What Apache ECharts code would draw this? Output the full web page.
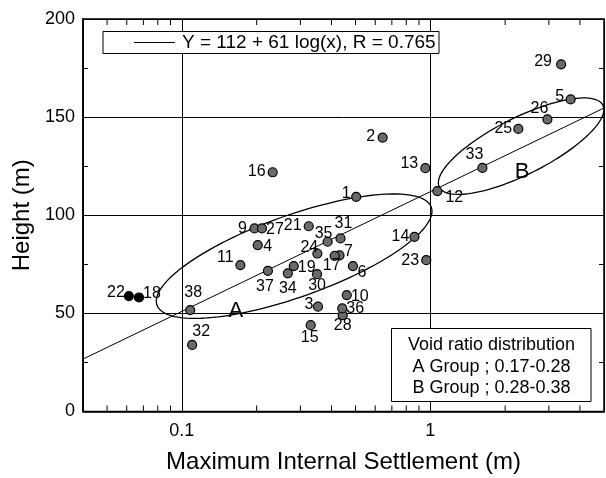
<!DOCTYPE html>
<html>
<head>
<meta charset="utf-8">
<script src="https://cdn.jsdelivr.net/npm/echarts@6/dist/echarts.min.js"></script>
<style>
  html, body { margin: 0; padding: 0; background: #fff; }
  #chart { width: 606px; height: 478px; }
</style>
</head>
<body>
<div id="chart"></div>
<script>
// Dam records: maximum internal settlement (m) vs. dam height (m)
const damIds = [1, 2, 3, 4, 5, 6, 7, 9, 10, 11, 12, 13, 14, 15, 16, 17, 18, 19, 21, 22,
                23, 24, 25, 26, 27, 28, 29, 30, 31, 32, 33, 34, 35, 36, 37, 38];
const settlement = [0.503, 0.643, 0.353, 0.202, 3.67, 0.488, 0.431, 0.196, 0.461, 0.172,
                    1.067, 0.955, 0.863, 0.330, 0.232, 0.412, 0.0672, 0.282, 0.324, 0.0612,
                    0.963, 0.351, 2.26, 2.96, 0.210, 0.444, 3.36, 0.350, 0.435, 0.110,
                    1.62, 0.267, 0.386, 0.442, 0.222, 0.108];
const height = [109.4, 139.6, 53.4, 84.8, 159.0, 74.1, 79.6, 93.3, 59.3, 74.6,
                112.3, 124.0, 89.0, 44.0, 121.9, 79.3, 58.1, 74.1, 94.4, 58.8,
                77.1, 80.5, 144.0, 148.9, 93.3, 49.1, 176.9, 70.0, 88.2, 33.9,
                124.1, 70.4, 86.5, 52.5, 71.7, 51.7];

// Regression Y = a + b log10(x)
const fitA = 112;
const fitB = 61;
const fitR = 0.765;

// Axis ranges and tick values
const xRange = [0.04, 5];
const yRange = [0, 200];
const yStep = 50;
const xMinorTicks = [0.05, 0.06, 0.07, 0.08, 0.09, 0.2, 0.3, 0.4, 0.5, 0.6, 0.7, 0.8, 0.9, 2, 3, 4];

// Group envelopes: end points of the long axis (settlement, height)
const groupA = { name: 'A', from: [0.0794, 54.2], to: [1.009, 104.1], tag: [0.165, 51.2] };
const groupB = { name: 'B', from: [1.087, 114.3], to: [4.95, 156.1], tag: [2.34, 121.9] };

// ---- styling ----
const FONT = '"Liberation Sans", Arial, Helvetica, sans-serif';
const ellipseRatio = { A: 0.28, B: 0.31 };
// label offsets (px) from each dot centre
const labelOffset = {
  1: [-10, -3], 2: [-12, -1], 3: [-9, -2], 4: [10, 2], 5: [-11, -3], 6: [9, 7], 7: [9, -4],
  9: [-12, 0], 10: [13, 1], 11: [-15, -8], 12: [17, 6], 13: [-16, -5], 14: [-14, 0],
  15: [-1, 12], 16: [-16, -1], 17: [-3, 10], 18: [13, -4], 19: [13, 2], 21: [-16, -1],
  22: [-13, -4], 23: [-16, 0], 24: [-8, -6], 25: [-15, 0], 26: [-8, -11], 27: [13, 1],
  28: [0, 10], 29: [-18, -3], 30: [0, 11], 31: [3, -15], 32: [9, -13], 33: [-8, -13],
  34: [0, 15], 35: [-4, -8], 36: [13, 0], 37: [-3, 16], 38: [3, -17]
};
const solidDots = { 18: true, 22: true };

const points = damIds.map((id, i) => ({
  value: [settlement[i], height[i]],
  name: String(id),
  itemStyle: solidDots[id] ? { color: '#000' } : undefined,
  label: { offset: labelOffset[id] || [10, 0] }
}));

const fitLine = xRange.map(x => [x, fitA + fitB * Math.log10(x)]);

function isDecade(v) {
  const l = Math.log10(v);
  return Math.abs(l - Math.round(l)) < 1e-6;
}

function ellipseItem(params, api) {
  const g = params.dataIndex === 0 ? groupA : groupB;
  const p1 = api.coord(g.from);
  const p2 = api.coord(g.to);
  const cx = (p1[0] + p2[0]) / 2, cy = (p1[1] + p2[1]) / 2;
  const a = Math.hypot(p2[0] - p1[0], p2[1] - p1[1]) / 2;
  const b = a * ellipseRatio[g.name];
  const ang = Math.atan2(p2[1] - p1[1], p2[0] - p1[0]);
  const pts = [];
  for (let k = 0; k < 120; k++) {
    const t = (k / 120) * Math.PI * 2;
    const ex = a * Math.cos(t), ey = b * Math.sin(t);
    pts.push([cx + ex * Math.cos(ang) - ey * Math.sin(ang), cy + ex * Math.sin(ang) + ey * Math.cos(ang)]);
  }
  const tp = api.coord(g.tag);
  return {
    type: 'group',
    children: [
      { type: 'polygon', shape: { points: pts }, style: { fill: 'none', stroke: '#000', lineWidth: 1.3 } },
      { type: 'text', x: tp[0], y: tp[1],
        style: { text: g.name, font: '22px ' + FONT, fill: '#000', align: 'center', verticalAlign: 'middle' } }
    ]
  };
}

function tickItem(params, api) {
  const v = api.value(0);
  const b = api.coord([v, yRange[0]]);
  const t = api.coord([v, yRange[1]]);
  return {
    type: 'group',
    children: [
      { type: 'line', shape: { x1: b[0], y1: b[1], x2: b[0], y2: b[1] - 6 }, style: { stroke: '#000', lineWidth: 1 } },
      { type: 'line', shape: { x1: t[0], y1: t[1], x2: t[0], y2: t[1] + 6 }, style: { stroke: '#000', lineWidth: 1 } }
    ]
  };
}

const chart = echarts.init(document.getElementById('chart'), null, { renderer: 'canvas' });
chart.setOption({
  animation: false,
  backgroundColor: '#fff',
  textStyle: { fontFamily: FONT },
  grid: { left: 83, right: 2, top: 19, bottom: 66.5, show: true, borderColor: '#000', borderWidth: 1.5,
          containLabel: false, outerBoundsMode: 'none' },
  xAxis: {
    type: 'log', logBase: 10, min: xRange[0], max: xRange[1],
    name: 'Maximum Internal Settlement (m)', nameLocation: 'middle', nameGap: 39,
    nameTextStyle: { fontSize: 24, color: '#000', fontFamily: FONT },
    axisLine: { show: true, lineStyle: { color: '#000', width: 1.5 } },
    axisTick: { show: false },
    axisLabel: { fontSize: 18, color: '#000', margin: 11, fontFamily: FONT,
      formatter: v => isDecade(v) ? String(+v.toPrecision(6)) : '' },
    splitLine: { show: true, lineStyle: { color: '#000', width: 1 } }
  },
  yAxis: [{
    type: 'value', min: yRange[0], max: yRange[1], interval: yStep,
    name: 'Height (m)', nameLocation: 'middle', nameGap: 44, nameRotate: 90,
    nameTextStyle: { fontSize: 24, color: '#000', fontFamily: FONT },
    axisLine: { show: true, lineStyle: { color: '#000', width: 1.5 } },
    axisTick: { show: true, inside: true, length: 5, lineStyle: { color: '#000' } },
    minorTick: { show: true, splitNumber: 2, length: 5, lineStyle: { color: '#000' } },
    axisLabel: { fontSize: 18, color: '#000', margin: 8, fontFamily: FONT },
    splitLine: { show: true, lineStyle: { color: '#000', width: 1 } }
  }, {
    type: 'value', min: yRange[0], max: yRange[1], interval: yStep, position: 'right',
    axisLine: { show: false },
    axisTick: { show: true, inside: true, length: 5, lineStyle: { color: '#000' } },
    minorTick: { show: true, splitNumber: 2, length: 5, lineStyle: { color: '#000' } },
    axisLabel: { show: false }, splitLine: { show: false }
  }],
  series: [
    {
      type: 'custom', renderItem: tickItem, data: xMinorTicks.map(v => [v]),
      encode: { x: 0 }, silent: true, clip: false, z: 1
    },
    {
      type: 'line', data: fitLine, symbol: 'none', silent: true,
      lineStyle: { color: '#000', width: 1 }, z: 2
    },
    {
      type: 'custom', renderItem: ellipseItem, data: [[groupA.from[0], groupA.from[1]], [groupB.from[0], groupB.from[1]]],
      encode: { x: 0, y: 1 }, clip: true, silent: true, z: 3
    },
    {
      type: 'scatter', data: points, symbol: 'circle', symbolSize: 9, z: 5,
      itemStyle: { color: '#6a6a6a', borderColor: '#000', borderWidth: 1.2, opacity: 1 },
      label: { show: true, position: 'inside', formatter: p => p.name,
        fontSize: 16, color: '#000', fontFamily: FONT }
    }
  ],
  graphic: [
    { type: 'rect', z: 100, shape: { x: 103, y: 31.5, width: 336, height: 22 },
      style: { fill: '#fff', stroke: '#000', lineWidth: 1 } },
    { type: 'line', z: 101, shape: { x1: 134, y1: 42.5, x2: 175, y2: 42.5 }, style: { stroke: '#000', lineWidth: 1 } },
    { type: 'text', z: 101, x: 182, y: 43,
      style: { text: 'Y = ' + fitA + ' + ' + fitB + ' log(x), R = ' + fitR, font: '19px ' + FONT, fill: '#000', verticalAlign: 'middle' } },
    { type: 'rect', z: 100, shape: { x: 391.5, y: 328.5, width: 199.5, height: 73 },
      style: { fill: '#fff', stroke: '#000', lineWidth: 1 } },
    { type: 'text', z: 101, x: 491.5, y: 345,
      style: { text: 'Void ratio distribution', font: '18px ' + FONT, fill: '#000', align: 'center', verticalAlign: 'middle' } },
    { type: 'text', z: 101, x: 491.5, y: 366.7,
      style: { text: 'A Group ; 0.17-0.28', font: '18px ' + FONT, fill: '#000', align: 'center', verticalAlign: 'middle' } },
    { type: 'text', z: 101, x: 491.5, y: 388.3,
      style: { text: 'B Group ; 0.28-0.38', font: '18px ' + FONT, fill: '#000', align: 'center', verticalAlign: 'middle' } }
  ]
});
</script>
</body>
</html>
